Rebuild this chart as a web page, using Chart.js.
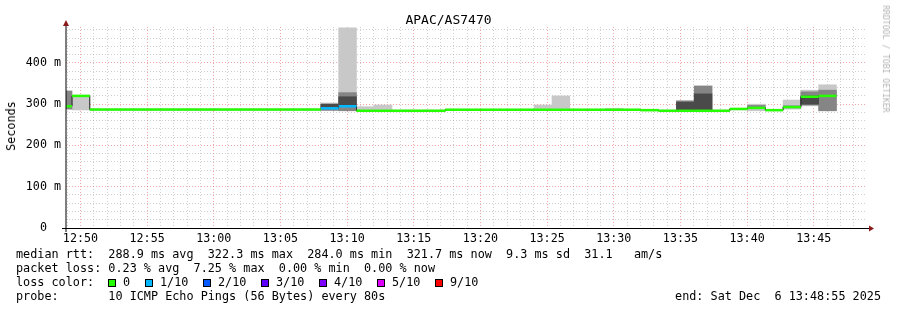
<!DOCTYPE html>
<html lang="en">
<head>
<meta charset="UTF-8">
<title>APAC/AS7470</title>
<script src="https://cdn.jsdelivr.net/npm/chart.js"></script>
<style>
    html, body { margin: 0; padding: 0; background: #fff; }
    .wrap { position: relative; width: 897px; height: 310px; font-family: "DejaVu Sans Mono", monospace; font-size: 11.8px; color: #000; }
    canvas { position: absolute; left: 0; top: 0; }
    .title { position: absolute; top: 12px; left: 0; width: 897px; text-align: center; font-size: 13px; line-height: 15px; }
    .ytitle { position: absolute; left: 11px; top: 126px; transform: translate(-50%, -50%) rotate(-90deg); white-space: nowrap; }
    .mark { position: absolute; left: 886px; top: 59px; transform: translate(-50%, -50%) rotate(90deg); font-size: 8.1px; color: #b4b4b4; white-space: nowrap; }
    .row { position: absolute; white-space: pre; line-height: 14px; }
    .box { position: absolute; width: 6px; height: 6px; border: 1px solid #000; }
</style>
</head>
<body>
<div class="wrap" id="wrap">
    <canvas id="chart" width="897" height="310"></canvas>
    <div class="title">APAC/AS7470</div>
    <div class="ytitle">Seconds</div>
    <div class="mark">RRDTOOL / TOBI OETIKER</div>
    <div class="row" style="left:16px;top:247px">median rtt:  288.9 ms avg  322.3 ms max  284.0 ms min  321.7 ms now  9.3 ms sd  31.1   am/s</div>
    <div class="row" style="left:16px;top:261px">packet loss: 0.23 % avg  7.25 % max  0.00 % min  0.00 % now</div>
    <div class="row" style="left:16px;top:275px">loss color:</div>
    <div class="row" style="left:16px;top:289px">probe:       10 ICMP Echo Pings (56 Bytes) every 80s</div>
    <div class="row" style="right:16px;top:289px">end: Sat Dec  6 13:48:55 2025</div>
</div>

<script>
    // time axis: seconds after 12:50:00, one rrd step = 80 s
    const STEP = 80;
    const FIRST_STEP = -118;   // first (partial) step starts before the graph
    const X_MIN = -65, X_MAX = 3535;
    const Y_MAX = 487;

    const xTickLabels = ['12:50', '12:55', '13:00', '13:05', '13:10', '13:15',
                         '13:20', '13:25', '13:30', '13:35', '13:40', '13:45'];
    const yTickLabels = ['0  ', '100 m', '200 m', '300 m', '400 m'];

    // median rtt per step (ms)
    const median = [295, 320,
        287, 287, 287, 287, 287, 287, 287, 287, 287, 287, 287, 287, 287,
        290, 295,
        284, 284, 284, 284, 284,
        286.5, 286.5, 286.5, 286.5, 286.5, 286.5, 286.5, 286.5, 286.5, 286.5, 286.5,
        285.5, 284, 284, 284, 284,
        288.5, 291, 285.5, 293, 318, 320];

    // lost pings out of 10 per step
    const lossTenths = [0, 0,
        0, 0, 0, 0, 0, 0, 0, 0, 0, 0, 0, 0, 0,
        1, 1,
        0, 0, 0, 0, 0,
        0, 0, 0, 0, 0, 0, 0, 0, 0, 0, 0,
        0, 0, 0, 0, 0,
        0, 0, 0, 0, 0, 0];

    // smoke: full range of the pings
    const smokeMin = [null, 286,
        285, 285, 285, 285, 285, 285, 285, 285, 285, 285, 285, 285, 285,
        285, 284,
        283, 284, 282, 282, 282,
        285, 285, 285, 285, 285, 286, 286, 285, 285, 285, 285,
        284, 282, 286, 286, 282,
        286, 284, 284, 288, 296, 284];
    const smokeMax = [null, 322,
        289, 289, 289, 289, 289, 289, 289, 289, 289, 289, 289, 289, 289,
        303, 485,
        294, 298, 286, 286, 286,
        288, 288, 288, 288, 288, 298, 320, 288, 288, 290, 288,
        287, 286, 308, 344, 286,
        290, 300, 287, 310, 334, 347];

    // smoke: middle pings
    const midLo = [288, null,
        null, null, null, null, null, null, null, null, null, null, null, null, null,
        285, 284,
        null, null, null, null, null,
        null, null, null, null, null, null, null, null, null, null, null,
        null, null, 286, 286, null,
        null, 290, null, 291, 298, 284];
    const midHi = [332, null,
        null, null, null, null, null, null, null, null, null, null, null, null, null,
        300, 328,
        null, null, null, null, null,
        null, null, null, null, null, null, null, null, null, null, null,
        null, null, 308, 344, null,
        null, 297, null, 296, 330, 334];

    // smoke: innermost pings
    const innerLo = [null, null,
        null, null, null, null, null, null, null, null, null, null, null, null, null,
        290, 298,
        null, null, null, null, null,
        null, null, null, null, null, null, null, null, null, null, null,
        null, null, 286, 286, null,
        null, null, null, null, 300, null];
    const innerHi = [null, null,
        null, null, null, null, null, null, null, null, null, null, null, null, null,
        300, 318,
        null, null, null, null, null,
        null, null, null, null, null, null, null, null, null, null, null,
        null, null, 305, 325, null,
        null, null, null, null, 320, null];

    const lossLabels = ['0', '1/10', '2/10', '3/10', '4/10', '5/10', '9/10'];
    const lossColors = ['#26ff00', '#00b8ff', '#0059ff', '#5e00ff', '#7e00ff', '#dd00ff', '#ff0000'];

    // loss colour legend row
    const wrap = document.getElementById('wrap');
    const boxLeft = [108, 145, 203, 261, 319, 377, 435];
    lossLabels.forEach((label, i) => {
        const box = document.createElement('div');
        box.className = 'box';
        box.style.left = boxLeft[i] + 'px';
        box.style.top = '279px';
        box.style.background = lossColors[i];
        wrap.appendChild(box);
        const txt = document.createElement('div');
        txt.className = 'row';
        txt.style.left = (boxLeft[i] + 15) + 'px';
        txt.style.top = '275px';
        txt.textContent = label;
        wrap.appendChild(txt);
    });

    const stepStart = median.map((_, i) => FIRST_STEP + i * STEP);
    const stepMid = stepStart.map(s => s + STEP / 2);

    function band(lo, hi) {
        return stepMid.map((x, i) => ({ x, y: lo[i] == null ? null : [lo[i], hi[i]] }));
    }

    // coloured median: one flat piece per step
    const medianPieces = [];
    median.forEach((m, i) => {
        medianPieces.push({ x: stepStart[i], y: m }, { x: stepStart[i] + STEP, y: m }, { x: stepStart[i] + STEP, y: null });
    });
    // thin dark median underneath (shows the steps)
    const medianSteps = median.map((m, i) => ({ x: stepStart[i], y: m }));
    medianSteps.push({ x: stepStart[median.length - 1] + STEP, y: median[median.length - 1] });

    // all smoke bars share one stack so each one fills its whole step
    const barOpts = { type: 'bar', stack: 'smoke', barThickness: 'flex', barPercentage: 1, categoryPercentage: 1, borderWidth: 0 };

    // minor tick every minute, labelled every 5 minutes
    function minuteTicks(scale) {
        const ticks = [];
        for (let v = Math.ceil(X_MIN / 60) * 60; v <= X_MAX; v += 60) ticks.push({ value: v });
        scale.ticks = ticks;
    }

    const axisArrows = {
        id: 'axisArrows',
        afterDraw(chart) {
            const { ctx, chartArea: a } = chart;
            ctx.save();
            ctx.strokeStyle = '#000';
            ctx.lineWidth = 1;
            ctx.beginPath();
            ctx.moveTo(a.left - 4, a.bottom + 0.5);
            ctx.lineTo(a.right + 3, a.bottom + 0.5);
            ctx.moveTo(a.left, a.bottom + 4);
            ctx.lineTo(a.left, a.top - 4);
            ctx.stroke();
            ctx.fillStyle = '#8b1a1a';
            ctx.beginPath();
            ctx.moveTo(a.left - 3, a.top - 1);
            ctx.lineTo(a.left + 3, a.top - 1);
            ctx.lineTo(a.left, a.top - 7);
            ctx.closePath();
            ctx.fill();
            ctx.beginPath();
            ctx.moveTo(a.right + 3, a.bottom - 2.5);
            ctx.lineTo(a.right + 3, a.bottom + 3.5);
            ctx.lineTo(a.right + 8, a.bottom + 0.5);
            ctx.closePath();
            ctx.fill();
            ctx.restore();
        }
    };

    const monoFont = { family: 'DejaVu Sans Mono', size: 11.7 };
    const majorGrid = 'rgba(230,60,60,0.45)';
    const minorGrid = 'rgba(150,150,150,0.45)';

    new Chart(document.getElementById('chart'), {
        type: 'bar',
        data: {
            datasets: [
                { ...barOpts, data: band(smokeMin, smokeMax), backgroundColor: '#c8c8c8', order: 4 },
                { ...barOpts, data: band(midLo, midHi), backgroundColor: '#858585', order: 3 },
                { ...barOpts, data: band(innerLo, innerHi), backgroundColor: '#4a4a4a', order: 2 },
                {
                    type: 'line', data: medianSteps, stepped: true, borderColor: '#202020',
                    borderWidth: 1, pointRadius: 0, order: 1
                },
                {
                    type: 'line', data: medianPieces, spanGaps: false, borderWidth: 2.5, pointRadius: 0,
                    borderColor: lossColors[0],
                    segment: { borderColor: c => lossColors[lossTenths[Math.floor(c.p0DataIndex / 3)]] },
                    order: 0
                }
            ]
        },
        options: {
            responsive: false,
            animation: false,
            devicePixelRatio: 1,
            layout: { padding: { top: 27, right: 31, left: 0, bottom: 0 } },
            plugins: { legend: { display: false }, tooltip: { enabled: false }, title: { display: false } },
            scales: {
                x: {
                    type: 'linear',
                    offset: false,
                    min: X_MIN,
                    max: X_MAX,
                    afterBuildTicks: minuteTicks,
                    afterFit: s => { s.height = 82; },
                    border: { display: false, dash: [1, 2] },
                    grid: {
                        offset: false,
                        drawTicks: false,
                        color: c => (c.tick && c.tick.value % 300 === 0) ? majorGrid : minorGrid
                    },
                    ticks: {
                        autoSkip: false,
                        maxRotation: 0,
                        padding: 4,
                        color: '#000',
                        font: monoFont,
                        callback: v => (v % 300 === 0 && v >= 0) ? xTickLabels[v / 300] : ''
                    }
                },
                y: {
                    min: 0,
                    max: Y_MAX,
                    stacked: false,
                    afterFit: s => { s.width = 66; },
                    border: { display: false, dash: [1, 2] },
                    grid: {
                        drawTicks: false,
                        color: c => (c.tick && c.tick.value % 100 === 0 && c.tick.value > 0) ? majorGrid : minorGrid
                    },
                    ticks: {
                        stepSize: 20,
                        includeBounds: false,
                        autoSkip: false,
                        padding: 5,
                        color: '#000',
                        font: monoFont,
                        callback: v => v % 100 === 0 ? yTickLabels[v / 100] : ''
                    }
                }
            }
        },
        plugins: [axisArrows]
    });
</script>
</body>
</html>
